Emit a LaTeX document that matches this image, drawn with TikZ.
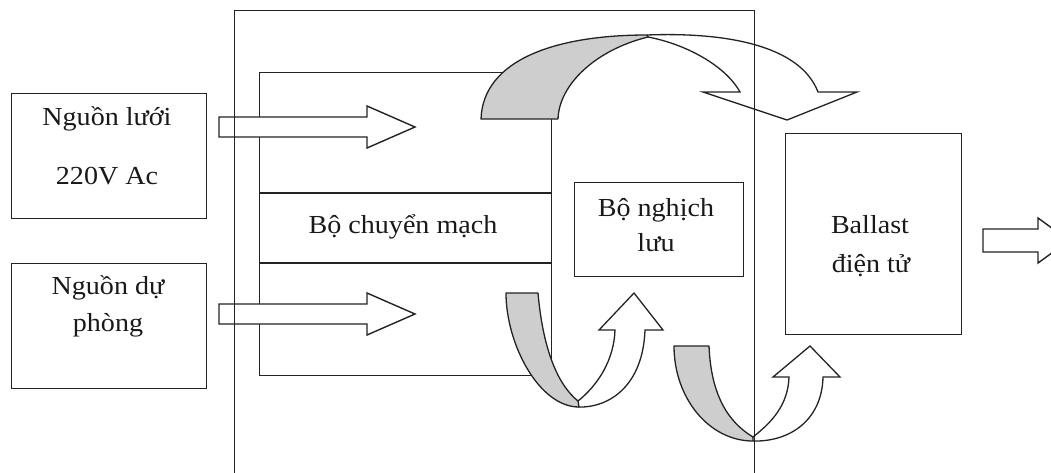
\documentclass[tikz,border=0pt]{standalone}
\usepackage{fontspec}
\setmainfont{Liberation Serif}[FakeStretch=1.08]
\definecolor{bandgray}{RGB}{206,206,206}
\definecolor{lincol}{RGB}{35,35,35}
\begin{document}
\begin{tikzpicture}[x=1pt,y=-1pt,
  ln/.style={line width=1.4pt, draw=lincol},
  box/.style={ln, rectangle, inner sep=0pt, anchor=north west},
  lbl/.style={font=\fontsize{26}{30}\selectfont, anchor=base, inner sep=0pt, text=black!90},
  grayband/.style={fill=bandgray, draw=lincol, line width=1.3pt, line join=round},
  band/.style={draw=lincol, line width=1.3pt, line join=miter},
  hollow/.style={fill=white, draw=lincol, line width=1.4pt, line join=miter}]
\useasboundingbox (0,0) rectangle (1051,472);
\begin{scope}
\clip (0,0) rectangle (1051,472);
% switch box
\node[box, minimum width=292pt, minimum height=303pt] (sw) at (259,72) {};
\coordinate (swl1) at (259,193); \coordinate (swr1) at (551,193);
\coordinate (swl2) at (259,263); \coordinate (swr2) at (551,263);
\draw[ln] (swl1) -- (swr1);
\draw[ln] (swl2) -- (swr2);
% other boxes
\node[box, minimum width=195pt, minimum height=125pt] (grid) at (11,93) {};
\node[box, minimum width=195pt, minimum height=125pt] (backup) at (11,263) {};
\node[box, minimum width=169pt, minimum height=94pt] (inv) at (574,182) {};
\node[box, minimum width=176pt, minimum height=201pt] (ballast) at (785,133) {};
% hollow straight arrows
\draw[hollow] (219,117) -- (367,117) -- (367,106) -- (415,127) -- (367,148) -- (367,137) -- (219,137) -- cycle;
\draw[hollow] (219,304) -- (367,304) -- (367,293) -- (415,314) -- (367,335) -- (367,324) -- (219,324) -- cycle;
\draw[hollow] (983,229) -- (1038,229) -- (1038,218) -- (1069,240.5) -- (1038,263) -- (1038,252) -- (983,252) -- cycle;
% outer frame
\node[box, minimum width=520pt, minimum height=480pt] (frame) at (234,10) {};
% top curved arrow
\draw[grayband] (481,119) .. controls (483,60) and (555,35) .. (647,35) -- (648,37)
  .. controls (595,50) and (559,85) .. (558,119) -- cycle;
\draw[band] (647,35) .. controls (725,32) and (800,45) .. (818,92) -- (857,92) -- (787,120)
  -- (703,92) -- (740,92) .. controls (725,65) and (685,44) .. (648,37);
% U arrow 1
\draw[grayband] (506,293) -- (538,293) .. controls (543,350) and (558,385) .. (578,401)
  -- (579,407) .. controls (539,407) and (506,344) .. (506,293) -- cycle;
\draw[band] (578,407) .. controls (610,408) and (643,385) .. (645,330) -- (663,330) -- (634,293)
  -- (599,330) -- (615,330) .. controls (614,360) and (598,385) .. (578,401);
% U arrow 2
\draw[grayband] (674,346) -- (709,346) .. controls (711,395) and (728,422) .. (753,437)
  -- (753,441) .. controls (709,441) and (674,398) .. (674,346) -- cycle;
\draw[band] (753,441) .. controls (790,442) and (822,420) .. (823,377) -- (840,377) -- (810,346)
  -- (773,377) -- (789,377) .. controls (788,405) and (772,422) .. (753,437);
\end{scope}
% labels
\node[lbl] (t1a) at (107,125) {Nguồn lưới};
\node[lbl] (t1b) at (107,184) {220V Ac};
\node[lbl] (t2a) at (108,294) {Nguồn dự};
\node[lbl] (t2b) at (108,331) {phòng};
\node[lbl] (t3) at (403,233) {Bộ chuyển mạch};
\node[lbl] (t4a) at (656,216) {Bộ nghịch};
\node[lbl] (t4b) at (656,251) {lưu};
\node[lbl] (t5a) at (870,233) {Ballast};
\node[lbl] (t5b) at (871,272) {điện tử};
\end{tikzpicture}
\end{document}
